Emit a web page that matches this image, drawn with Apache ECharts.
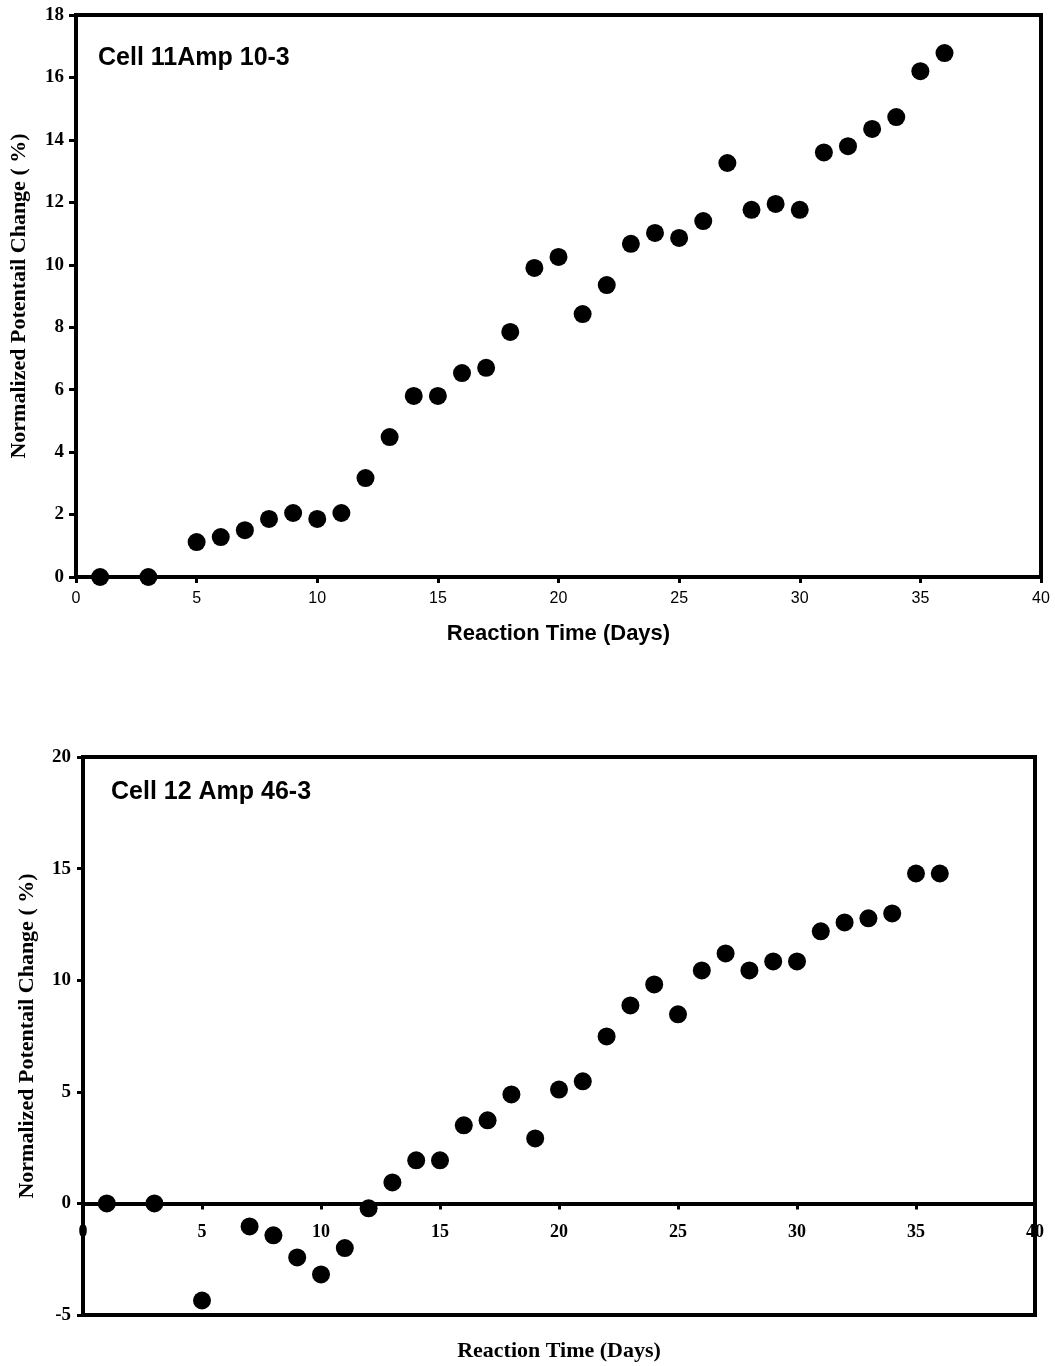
<!DOCTYPE html>
<html>
<head>
<meta charset="utf-8">
<title>Normalized Potential Change vs Reaction Time</title>
<script src="https://cdn.jsdelivr.net/npm/echarts@6/dist/echarts.min.js"></script>
<style>
  html, body { margin: 0; padding: 0; background: #ffffff; }
  #chart { width: 1055px; height: 1366px; }
</style>
</head>
<body>
<div id="chart"></div>
<script>
// Cell 11, Amp 10-3
const days11 = [1, 3, 5, 6, 7, 8, 9, 10, 11, 12, 13, 14, 15, 16, 17, 18, 19, 20,
  21, 22, 23, 24, 25, 26, 27, 28, 29, 30, 31, 32, 33, 34, 35, 36];
const change11 = [0, 0, 1.12, 1.28, 1.5, 1.86, 2.05, 1.86, 2.05, 3.17, 4.48, 5.8, 5.8,
  6.53, 6.7, 7.85, 9.9, 10.25, 8.42, 9.35, 10.67, 11.02, 10.86, 11.4, 13.26, 11.76,
  11.95, 11.76, 13.6, 13.8, 14.35, 14.73, 16.2, 16.78];

// Cell 12, Amp 46-3
const days12 = [1, 3, 5, 7, 8, 9, 10, 11, 12, 13, 14, 15, 16, 17, 18, 19, 20,
  21, 22, 23, 24, 25, 26, 27, 28, 29, 30, 31, 32, 33, 34, 35, 36];
const change12 = [0, 0, -4.35, -1.03, -1.43, -2.42, -3.18, -2.0, -0.22, 0.94, 1.93, 1.93,
  3.5, 3.72, 4.88, 2.91, 5.1, 5.47, 7.48, 8.87, 9.81, 8.47, 10.44, 11.2, 10.44, 10.84,
  10.84, 12.19, 12.59, 12.77, 12.99, 14.78, 14.78];

const titles = ['Cell 11Amp 10-3', 'Cell 12 Amp 46-3'];
const xTitle = 'Reaction Time (Days)';
const yTitle = 'Normalized Potentail Change ( %)';

const SANS = '"Liberation Sans", Arial, Helvetica, sans-serif';
const SERIF = '"Liberation Serif", "Times New Roman", serif';
const INK = '#000000';

const line = { show: true, lineStyle: { color: INK, width: 4 } };

// lower plot: value range and height, used to lift its x axis up to y = 0
const lowMin = -5, lowMax = 20, lowHeight = 558;
const zeroLift = lowHeight * (0 - lowMin) / (lowMax - lowMin);

const chart = echarts.init(document.getElementById('chart'), null, { renderer: 'canvas' });

chart.setOption({
  backgroundColor: '#ffffff',
  animation: false,
  title: [
    { text: titles[0], left: 93, top: 41,
      textStyle: { fontFamily: SANS, fontWeight: 'bold', fontSize: 25, color: INK } },
    { text: titles[1], left: 106, top: 775,
      textStyle: { fontFamily: SANS, fontWeight: 'bold', fontSize: 25, color: INK } }
  ],
  grid: [
    { left: 76, top: 15, width: 965, height: 562, show: true, outerBoundsMode: 'none',
      borderColor: INK, borderWidth: 4, backgroundColor: 'transparent' },
    { left: 83, top: 757, width: 952, height: lowHeight, show: true, outerBoundsMode: 'none',
      borderColor: INK, borderWidth: 4, backgroundColor: 'transparent' }
  ],
  xAxis: [
    { type: 'value', gridIndex: 0, min: 0, max: 40, interval: 5,
      name: xTitle, nameLocation: 'middle', nameGap: 46,
      nameTextStyle: { fontFamily: SANS, fontWeight: 'bold', fontSize: 22, color: INK },
      axisLine: line,
      axisTick: { show: true, inside: false, length: 6, lineStyle: { color: INK, width: 3 } },
      axisLabel: { margin: 14, fontFamily: SANS, fontSize: 16, color: INK, showMinLabel: true, showMaxLabel: true },
      splitLine: { show: false } },
    { type: 'value', gridIndex: 1, min: 0, max: 40, interval: 5, z: 1,
      position: 'bottom', offset: -zeroLift,
      name: xTitle, nameLocation: 'middle', nameGap: 137,
      nameTextStyle: { fontFamily: SERIF, fontWeight: 'bold', fontSize: 22, color: INK },
      axisLine: { show: true, onZero: false, lineStyle: { color: INK, width: 4 } },
      axisTick: { show: true, inside: false, length: 6, lineStyle: { color: INK, width: 3 } },
      axisLabel: { margin: 20, fontFamily: SERIF, fontWeight: 'bold', fontSize: 18, color: INK,
        showMinLabel: true, showMaxLabel: true },
      splitLine: { show: false } }
  ],
  yAxis: [
    { type: 'value', gridIndex: 0, min: 0, max: 18, interval: 2,
      name: yTitle, nameLocation: 'middle', nameGap: 46, nameRotate: 90,
      nameTextStyle: { fontFamily: SERIF, fontWeight: 'bold', fontSize: 22, color: INK },
      axisLine: line,
      axisTick: { show: true, inside: false, length: 7, lineStyle: { color: INK, width: 3 } },
      axisLabel: { margin: 12, fontFamily: SERIF, fontWeight: 'bold', fontSize: 19, color: INK },
      splitLine: { show: false } },
    { type: 'value', gridIndex: 1, min: lowMin, max: lowMax, interval: 5, z: 10,
      name: yTitle, nameLocation: 'middle', nameGap: 45, nameRotate: 90,
      nameTextStyle: { fontFamily: SERIF, fontWeight: 'bold', fontSize: 22, color: INK },
      axisLine: { show: true, onZero: false, lineStyle: { color: INK, width: 4 } },
      axisTick: { show: true, inside: false, length: 6, lineStyle: { color: INK, width: 3 } },
      axisLabel: { margin: 12, fontFamily: SERIF, fontWeight: 'bold', fontSize: 19, color: INK },
      splitLine: { show: false } },
    // right-hand frame edge of the lower plot, drawn above the "40" label
    { type: 'value', gridIndex: 1, min: lowMin, max: lowMax, interval: 5, position: 'right', z: 10,
      axisLine: { show: true, onZero: false, lineStyle: { color: INK, width: 4 } },
      axisTick: { show: false }, axisLabel: { show: false }, splitLine: { show: false } }
  ],
  series: [
    { type: 'scatter', xAxisIndex: 0, yAxisIndex: 0, symbol: 'circle', symbolSize: 18,
      itemStyle: { color: INK, opacity: 1 }, z: 5,
      data: days11.map((d, i) => [d, change11[i]]) },
    { type: 'scatter', xAxisIndex: 1, yAxisIndex: 1, symbol: 'circle', symbolSize: 18,
      itemStyle: { color: INK, opacity: 1 }, z: 5,
      data: days12.map((d, i) => [d, change12[i]]) }
  ]
});
</script>
</body>
</html>
